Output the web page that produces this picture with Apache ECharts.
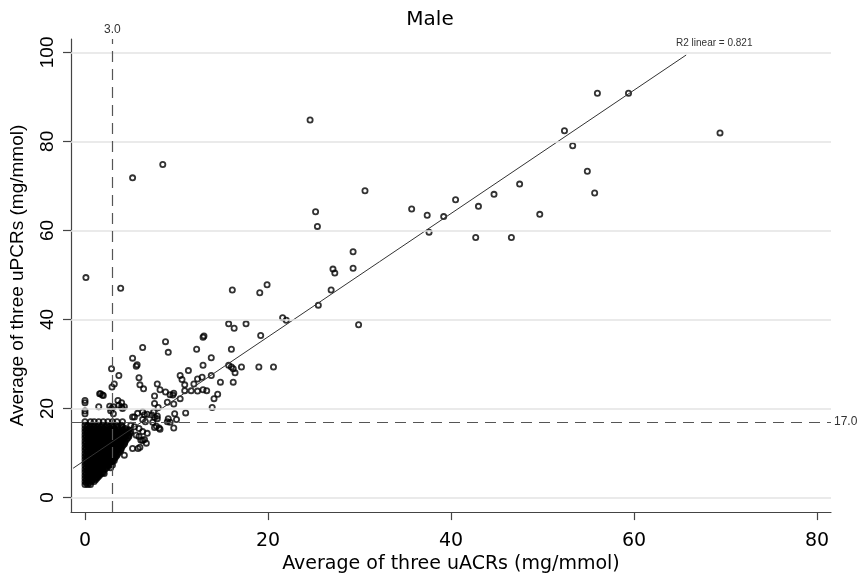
<!DOCTYPE html>
<html><head><meta charset="utf-8">
<script src="https://cdn.jsdelivr.net/npm/echarts@6/dist/echarts.min.js"></script>
<style>html,body{margin:0;padding:0;background:#fff}#c{width:860px;height:579px}</style>
</head><body><div id="c"></div>
<script>
const titleText = 'Male';
const xName = 'Average of three uACRs (mg/mmol)';
const yName = 'Average of three uPCRs (mg/mmol)';
const xTicks = [0, 20, 40, 60, 80];
const yTicks = [0, 20, 40, 60, 80, 100];
const refX = 3.0, refXLabel = '3.0';
const refY = 17.0, refYLabel = '17.0';
const fitX = [-1.3, 65.7];
const fitY = [6.56, 99.4];
const r2Label = 'R2 linear = 0.821';

// individually readable points [uACR, uPCR]
const sparsePoints = [
  [69.4,81.9],[59.4,90.8],[56.0,90.8],[52.4,82.4],[53.3,79.0],[54.9,73.3],[55.7,68.4],[49.7,63.6],
  [47.5,70.4],[44.7,68.1],[43.0,65.4],[40.5,66.9],[39.2,63.1],[37.4,63.4],[35.7,64.8],[37.6,59.6],
  [42.7,58.4],[46.6,58.4],[30.6,68.9],[24.6,84.8],[25.2,64.2],[25.4,60.9],[29.3,55.2],[29.3,51.5],
  [27.1,51.3],[27.3,50.4],[26.9,46.6],[25.5,43.2],[29.9,38.8],[8.5,74.8],[5.2,71.8],[0.1,49.4],[3.9,47.0],
  [16.1,46.6],[19.1,46.0],[19.9,47.8],[21.6,40.4],[22.0,39.8],[15.7,39.0],[16.3,38.0],[17.6,39.0],
  [19.2,36.4],[12.9,36.0],[13.0,36.3],[16.0,33.3],[13.8,31.4],[12.9,29.7],[15.7,29.7],[16.0,29.3],
  [16.2,28.9],[16.4,28.0],[17.1,29.3],[19.0,29.3],[20.6,29.3],[13.8,27.4],[12.8,27.0],[14.8,25.9],
  [16.2,25.9],[12.9,24.2],[13.3,24.0],[14.5,23.2],[14.1,22.2],[13.9,20.2],
  [8.8,35.0],[9.1,32.6],[12.2,33.3],[6.3,33.7],[5.2,31.3],[5.6,29.5],[5.7,29.8],[2.9,28.9],[3.7,27.4],
  [3.2,25.5],[2.95,24.8],[5.9,26.9],[6.0,25.3],[6.4,24.4],[7.9,25.5],[8.2,24.2],[7.6,22.8],[8.8,23.7],
  [9.3,23.1],[9.6,23.0],[9.7,23.4],[10.4,27.4],[10.6,26.5],[11.3,28.5],[12.3,26.6],[11.9,25.5],[10.9,25.3],
  [1.6,23.3],[2.0,22.9],[1.9,23.0],[9.0,21.4],[9.7,21.0],[10.4,22.2],[10.9,24.0],[11.6,24.0],[12.3,23.9],
  [11.0,19.0],[9.8,18.8],[9.1,17.7],[10.0,17.5],[9.0,17.0],[9.3,16.9],[9.7,15.6],[7.6,21.1],[8.0,20.2],
  [7.3,18.5],[7.5,19.2],[7.9,18.3],[7.6,18.0],[7.4,16.9],[7.8,16.0],[8.1,15.6],[8.2,15.3],[7.6,15.7],
  [6.3,17.5],[6.5,18.6],[6.6,17.0],[6.3,14.8],[6.8,14.4],[6.5,13.0],[6.7,12.2],[6.0,11.3],[5.8,11.0],
  [5.2,18.1],[5.75,18.9],[6.3,19.2],[6.8,18.7],[7.9,17.7],[5.0,16.2],[5.4,15.9],[5.9,15.5],[5.6,14.0],
  [5.9,13.7],[6.1,12.9],[5.2,11.0],[4.3,9.5],[3.0,7.3],[2.1,5.4],[3.4,12.2],[3.9,12.9],[6.3,12.8],
  [3.2,8.3],[2.8,6.7],[2.0,5.6],
  [1.5,20.4],[1.7,23.3],[3.1,20.4],[2.9,20.0],[3.6,21.8],[4.0,21.3],[4.1,20.0],[4.3,20.4],[3.7,20.7],
  [2.7,20.5],[2.8,19.5],[3.1,18.8],[5.4,18.1],[4.0,20.3],
  [0.0,18.8],[0.0,19.4],[0.0,21.3],[0.0,21.8]
];

// dense overlapping mass near the origin: [uPCR, list of uACR values]
const clusterRows = [
  [2.9,  [0.0,0.3,0.6]],
  [3.25, [0.15,0.45]],
  [3.6,  [0.0,0.3,0.7,1.0]],
  [3.95, [0.15,0.5,0.85,1.15]],
  [4.3,  [0.0,0.4,0.7,1.1,1.3]],
  [4.65, [0.2,0.55,0.9,1.2,1.45]],
  [5.0,  [0.0,0.3,0.7,1.0,1.4,1.6]],
  [5.35, [0.15,0.5,0.85,1.2,1.5,1.75]],
  [5.7,  [0.0,0.4,0.8,1.1,1.5,1.9]],
  [6.05, [0.2,0.55,0.95,1.3,1.7,2.0]],
  [6.4,  [0.0,0.3,0.7,1.1,1.5,1.9,2.2]],
  [6.75, [0.15,0.5,0.9,1.3,1.7,2.05,2.4]],
  [7.1,  [0.0,0.4,0.8,1.2,1.6,2.0,2.4,2.6]],
  [7.45, [0.2,0.6,1.0,1.4,1.8,2.2,2.5,2.75]],
  [7.8,  [0.0,0.3,0.7,1.1,1.5,1.9,2.3,2.7,2.9]],
  [8.15, [0.15,0.5,0.9,1.3,1.7,2.1,2.5,2.85,3.0]],
  [8.5,  [0.0,0.4,0.8,1.2,1.6,2.0,2.4,2.8,3.1]],
  [8.85, [0.2,0.6,1.0,1.4,1.8,2.2,2.6,2.95,3.25]],
  [9.2,  [0.0,0.3,0.7,1.1,1.5,1.9,2.3,2.7,3.1,3.4]],
  [9.55, [0.15,0.5,0.9,1.3,1.7,2.1,2.5,2.9,3.3,3.5]],
  [9.9,  [0.0,0.4,0.8,1.2,1.6,2.0,2.4,2.8,3.2,3.6]],
  [10.25,[0.2,0.6,1.0,1.4,1.8,2.2,2.6,3.0,3.4,3.75]],
  [10.6, [0.0,0.3,0.7,1.1,1.5,1.9,2.3,2.7,3.1,3.5,3.9]],
  [10.95,[0.15,0.5,0.9,1.3,1.7,2.1,2.5,2.9,3.3,3.7,3.95]],
  [11.3, [0.0,0.4,0.8,1.2,1.6,2.0,2.4,2.8,3.2,3.6,4.0]],
  [11.65,[0.2,0.6,1.0,1.4,1.8,2.2,2.6,3.0,3.4,3.8,4.15]],
  [12.0, [0.0,0.3,0.7,1.1,1.5,1.9,2.3,2.7,3.1,3.5,3.9,4.3]],
  [12.35,[0.15,0.5,0.9,1.3,1.7,2.1,2.5,2.9,3.3,3.7,4.1,4.35]],
  [12.7, [0.0,0.4,0.8,1.2,1.6,2.0,2.4,2.8,3.2,3.6,4.0,4.4]],
  [13.05,[0.2,0.6,1.0,1.4,1.8,2.2,2.6,3.0,3.4,3.8,4.2,4.55]],
  [13.4, [0.0,0.3,0.7,1.1,1.5,1.9,2.3,2.7,3.1,3.5,3.9,4.3,4.7]],
  [13.75,[0.15,0.5,0.9,1.3,1.7,2.1,2.5,2.9,3.3,3.7,4.1,4.5,4.8]],
  [14.1, [0.0,0.4,0.8,1.2,1.6,2.0,2.4,2.8,3.2,3.6,4.0,4.4,4.8]],
  [14.45,[0.2,0.6,1.0,1.4,1.8,2.2,2.6,3.0,3.4,3.8,4.2,4.6,4.95]],
  [14.8, [0.0,0.3,0.7,1.1,1.5,1.9,2.3,2.7,3.1,3.5,3.9,4.3,4.7,5.0]],
  [15.15,[0.15,0.5,0.9,1.3,1.7,2.1,2.5,2.9,3.3,3.7,4.1,4.5,4.8]],
  [15.5, [0.0,0.4,0.8,1.2,1.6,2.0,2.4,2.8,3.2,3.6,4.0,4.4]],
  [15.85,[0.2,0.55,0.95,1.35,1.75,2.2,2.6,3.1,3.6,4.1]],
  [16.2, [0.0,0.3,0.7,1.1,1.5,1.9,2.4,2.9,3.4,4.0]],
  [17.0, [0.0,0.6,1.0,1.5,2.0,2.5,3.0,3.5,4.1]]
];

const clusterPoints = [];
clusterRows.forEach(([y, xs]) => xs.forEach(x => clusterPoints.push([x, y])));
const allPoints = sparsePoints.concat(clusterPoints);

const chart = echarts.init(document.getElementById('c'), null, {renderer: 'canvas'});
const sans = 'Liberation Sans, Arial, sans-serif';
const wide = 'DejaVu Sans, sans-serif';
chart.setOption({
  animation: false,
  backgroundColor: '#fff',
  title: {text: titleText, left: 'center', top: 5,
    textStyle: {fontSize: 20, fontWeight: 'normal', fontFamily: wide, color: '#000'}},
  grid: {left: 70, right: 29, top: 39, bottom: 65, containLabel: false},
  xAxis: {
    type: 'value', min: -1.53, max: 81.53,
    name: xName, nameLocation: 'middle', nameGap: 40,
    nameTextStyle: {fontSize: 19, fontFamily: wide, color: '#000'},
    axisLine: {show: true, onZero: false, lineStyle: {color: '#444', width: 1.2}},
    axisTick: {show: true, length: 8, customValues: xTicks, lineStyle: {color: '#444', width: 1.2}},
    axisLabel: {customValues: xTicks, fontSize: 19, fontFamily: wide, color: '#000', margin: 19},
    splitLine: {show: false}
  },
  yAxis: {
    type: 'value', min: -3.29, max: 103.0,
    name: yName, nameLocation: 'middle', nameGap: 44,
    nameTextStyle: {fontSize: 19, fontFamily: sans, color: '#000'},
    axisLine: {show: true, onZero: false, lineStyle: {color: '#444', width: 1.2}},
    axisTick: {show: true, length: 8, customValues: yTicks, lineStyle: {color: '#444', width: 1.2}},
    axisLabel: {customValues: yTicks, rotate: 90, fontSize: 19, fontFamily: sans, color: '#000', margin: 14},
    splitLine: {show: false}
  },
  graphic: [{type: 'text', left: 676, top: 38,
    style: {text: r2Label, fontSize: 10, fontFamily: sans, fill: '#333'}}],
  series: [
    {
      type: 'line', data: [], z: 1, silent: true,
      markLine: {silent: true, symbol: ['none', 'none'], label: {show: false},
        lineStyle: {type: 'solid', color: '#e3e3e3', width: 1.6},
        data: yTicks.map(v => ({yAxis: v}))}
    },
    {
      type: 'scatter', data: allPoints, z: 3, silent: true,
      symbol: 'circle', symbolSize: 5.2,
      itemStyle: {color: 'rgba(0,0,0,0)', borderColor: '#000', borderWidth: 1.8}
    },
    {
      type: 'line', data: fitX.map((x, i) => [x, fitY[i]]), z: 4, silent: true,
      symbol: 'none', lineStyle: {color: '#333', width: 1},
      markLine: {silent: true, symbol: ['none', 'none'],
        lineStyle: {type: [11, 7], color: '#555', width: 1.2},
        label: {show: true, position: 'end', fontSize: 12, fontFamily: sans, color: '#333', distance: 3},
        data: [
          {xAxis: refX, label: {formatter: refXLabel}},
          {yAxis: refY, label: {formatter: refYLabel}}
        ]}
    }
  ]
});
</script>
</body></html>
